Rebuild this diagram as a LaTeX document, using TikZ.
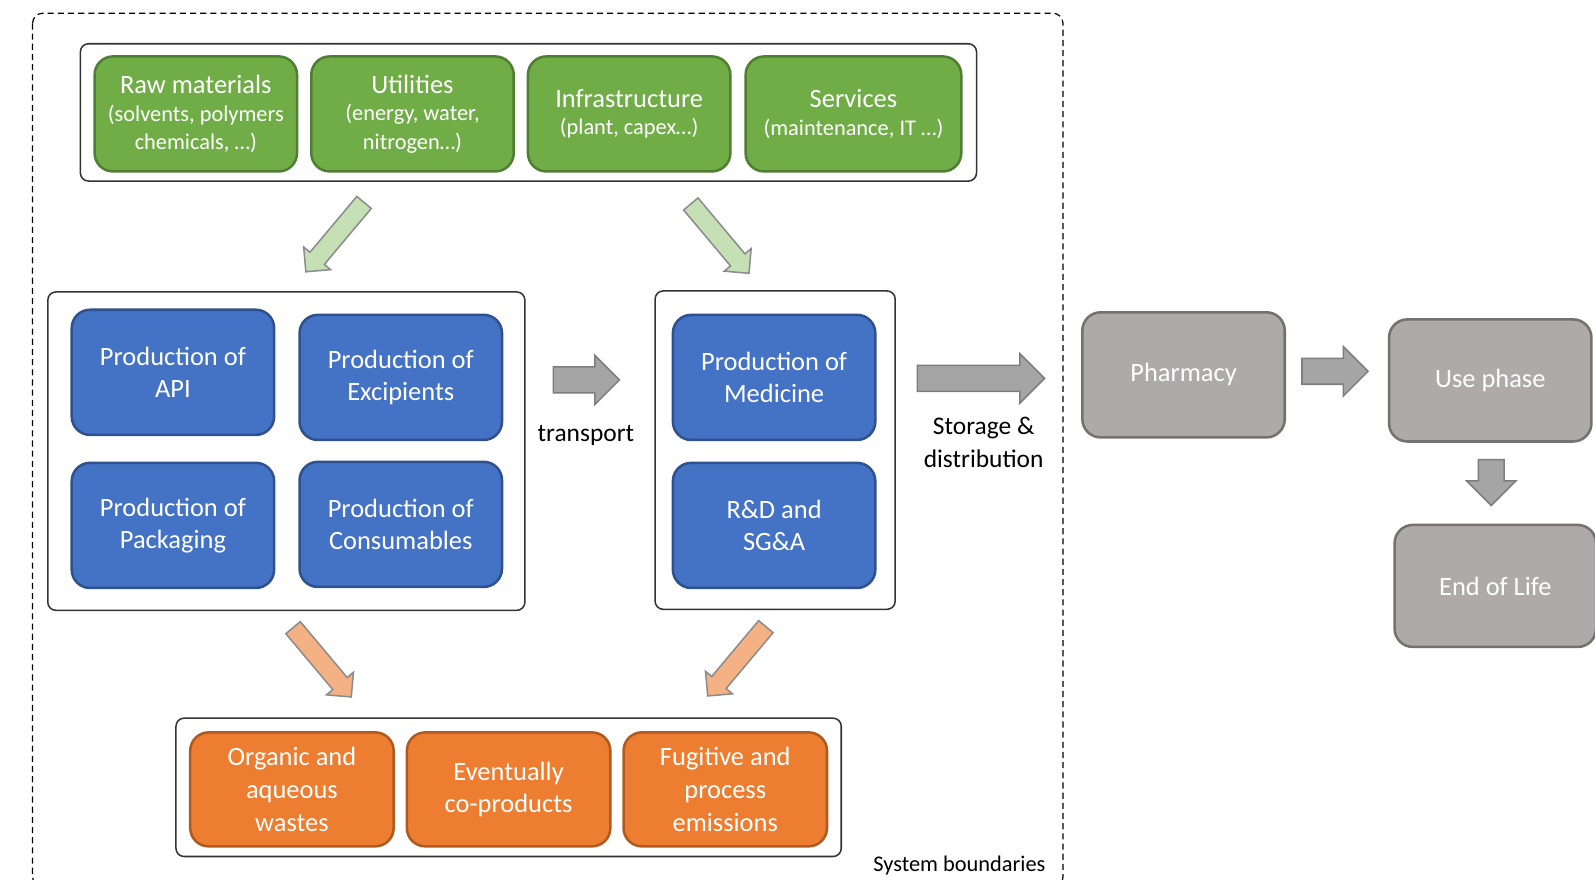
\documentclass[tikz,border=0pt]{standalone}
\usepackage{fontspec}
\setmainfont{Carlito}
\usetikzlibrary{shapes.arrows}

\definecolor{boxgreen}{HTML}{70AD47}
\definecolor{greenline}{HTML}{507E32}
\definecolor{boxblue}{HTML}{4472C4}
\definecolor{blueline}{HTML}{2F528F}
\definecolor{boxorange}{HTML}{ED7D31}
\definecolor{orangeline}{HTML}{AE5A21}
\definecolor{boxgrey}{HTML}{AEAAAA}
\definecolor{greyline}{HTML}{767171}
\definecolor{flowgreen}{HTML}{C5E0B4}
\definecolor{floworange}{HTML}{F4B183}
\definecolor{flowgrey}{HTML}{A5A5A5}
\definecolor{flowline}{HTML}{8C8C8C}

\newcommand{\subfont}{\fontsize{22}{27}\selectfont}

\begin{document}
\begin{tikzpicture}[x=1pt,y=-1pt]
	\tikzstyle{card}=[rounded corners=18pt, line width=2.5pt, minimum width=199pt, minimum height=123pt, inner sep=0pt, align=center, text=white, font=\fontsize{26}{32}\selectfont]
	\tikzstyle{inputbox}=[card, fill=boxgreen, draw=greenline, minimum height=113pt]
	\tikzstyle{prodbox}=[card, fill=boxblue, draw=blueline]
	\tikzstyle{wastebox}=[card, fill=boxorange, draw=orangeline, minimum width=200pt, minimum height=112pt]
	\tikzstyle{lifebox}=[card, fill=boxgrey, draw=greyline, minimum height=120pt]
	\tikzstyle{frame}=[draw=black!80, line width=1.5pt, rounded corners=8pt]
	\tikzstyle{flow}=[single arrow, anchor=tip, draw=flowline, line width=1.5pt, inner xsep=0pt, single arrow tip angle=90, single arrow head indent=0pt]
	\tikzstyle{greyflow}=[flow, fill=flowgrey, draw=flowline!90!black, inner ysep=12pt, single arrow head extend=11.5pt]
	\tikzstyle{greenflow}=[flow, fill=flowgreen, inner ysep=8.5pt, single arrow head extend=8pt, minimum height=89pt]
	\tikzstyle{orangeflow}=[flow, fill=floworange, inner ysep=8.5pt, single arrow head extend=8pt, minimum height=89pt]
	\tikzstyle{note}=[inner sep=0pt, align=center, font=\fontsize{25}{32}\selectfont]

	\useasboundingbox (0,0) rectangle (1568,865);
	% system boundaries
	\draw[dashed, line width=1.2pt, rounded corners=10pt, dash pattern=on 6pt off 4pt] (32,13) rectangle (1045,872);
	\node (sysb) [anchor=east, inner sep=0pt, font=\fontsize{22}{26}\selectfont] at (1028,851) {System boundaries};

	% inputs
	\draw[frame] (79,43) rectangle (960,178);
	\node (raw) [inputbox] at (192.5,112) {Raw materials\\[-5pt]{\subfont (solvents, polymers}\\[-4pt]{\subfont chemicals, \dots)}};
	\node (util) [inputbox] at (405.5,112) {Utilities\\[-5pt]{\subfont (energy, water,}\\[-4pt]{\subfont nitrogen\dots)}};
	\node (infra) [inputbox] at (618.5,112) {Infrastructure\\[-5pt]{\subfont (plant, capex\dots)}};
	\node (serv) [inputbox, minimum width=212pt] at (839,112) {Services\\[-5pt]{\subfont (maintenance, IT \dots)}};

	% production
	\draw[frame] (47,287) rectangle (516,600);
	\node (api) [prodbox] at (170,366) {Production of\\API};
	\node (excip) [prodbox] at (394,371) {Production of\\Excipients};
	\node (pack) [prodbox] at (170,516.5) {Production of\\Packaging};
	\node (cons) [prodbox] at (394,515.5) {Production of\\Consumables};

	\draw[frame] (644,286) rectangle (880,599);
	\node (med) [prodbox] at (761,371) {Production of\\Medicine};
	\node (rnd) [prodbox] at (761,516.5) {R\&D and\\SG\&A};

	% outputs
	\draw[frame] (173,706) rectangle (827,842);
	\node (organic) [wastebox] at (287,776) {Organic and\\aqueous\\wastes};
	\node (coprod) [wastebox] at (500,776) {Eventually\\co-products};
	\node (emis) [wastebox] at (713,776) {Fugitive and\\process\\emissions};

	% life cycle
	\node (pharm) [lifebox, minimum height=123pt] at (1163.5,368.5) {Pharmacy};
	\node (use) [lifebox] at (1465,374) {Use phase};
	\node (eol) [lifebox, minimum width=198pt] at (1470,576) {End of Life};

	% block arrows (placed by their tips)
	\node (inL) [greenflow, rotate=230] at (300,268) {};
	\node (inR) [greenflow, rotate=310] at (737,269.5) {};
	\node (outL) [orangeflow, rotate=310] at (346,686) {};
	\node (outR) [orangeflow, rotate=230] at (695,685) {};
	\node (trans) [greyflow, minimum height=65pt] at (610,373.5) {};
	\node (store) [greyflow, minimum height=125pt] at (1028,372) {};
	\node (touse) [greyflow, minimum height=65pt] at (1346,365) {};
	\node (toeol) [greyflow, minimum height=45pt, rotate=-90] at (1466,498) {};

	\node (translbl) [note] at (576,428) {transport};
	\node (storelbl) [note] at (967,435) {Storage \&\\distribution};
\end{tikzpicture}
\end{document}
